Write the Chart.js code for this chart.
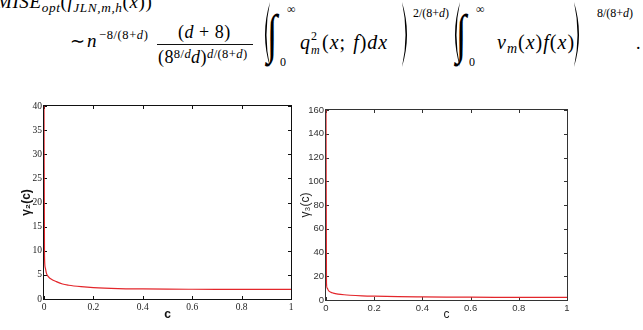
<!DOCTYPE html>
<html>
<head>
<meta charset="utf-8">
<script src="https://cdn.jsdelivr.net/npm/chart.js@4.4.0/dist/chart.umd.min.js"></script>
<style>
  html, body { margin: 0; padding: 0; background: #fff; }
  body { width: 643px; height: 330px; position: relative; overflow: hidden; }
  #formula { position: absolute; left: 0; top: 0; width: 643px; height: 75px;
             font-family: "Liberation Serif", "Times New Roman", serif; color: #000; }
  #formula span.p { position: absolute; white-space: nowrap; line-height: 1; }
  .sb { font-size: 0.7em; vertical-align: -0.3em; line-height: 0; }
  .sp { font-size: 0.7em; vertical-align: 0.4em; line-height: 0; }
  .bar { position: absolute; height: 1px; background: #111; }
  .paren { position: absolute; top: 2px; }
  .box { position: absolute; }
</style>
</head>
<body>
<div id="formula"></div>
<div class="box" style="left:0;top:95px;width:300px;height:235px"><canvas id="gamma2Chart"></canvas></div>
<div class="box" style="left:296px;top:95px;width:300px;height:235px"><canvas id="gamma3Chart"></canvas></div>

<script>
// --- data ---
const cValues = [0, 0.002, 0.005, 0.01, 0.02, 0.03, 0.05, 0.075, 0.1, 0.15, 0.2, 0.3, 0.4, 0.5, 0.6, 0.7, 0.8, 0.9, 1.0];
const gamma2 = [40, 9, 6.5, 5.3, 4.5, 4.1, 3.6, 3.1, 2.85, 2.55, 2.35, 2.15, 2.08, 2.04, 2.02, 2.01, 2.0, 2.0, 2.0];
const gamma3 = [160, 14, 10, 8, 6.5, 5.8, 5.0, 4.4, 4.0, 3.5, 3.2, 2.8, 2.6, 2.45, 2.35, 2.28, 2.22, 2.18, 2.15];
const xTicks = [0, 0.2, 0.4, 0.6, 0.8, 1];
const y2Ticks = [0, 5, 10, 15, 20, 25, 30, 35, 40];
const y3Ticks = [0, 20, 40, 60, 80, 100, 120, 140, 160];

// --- formula above the plots ---
const formula = document.getElementById('formula');
function put(x, baseline, size, html, extra) {
  const s = document.createElement('span');
  s.className = 'p';
  s.style.left = x + 'px';
  s.style.top = (baseline - 0.8375 * size) + 'px';
  s.style.fontSize = size + 'px';
  s.innerHTML = html;
  if (extra) Object.assign(s.style, extra);
  formula.appendChild(s);
}
// tall delimiters drawn as thin crescents
function bigParen(x, right) {
  const d = right
    ? 'M1,0 Q11,32.5 1,65 Q8,32.5 1,0 Z'
    : 'M10,0 Q0,32.5 10,65 Q3,32.5 10,0 Z';
  const div = document.createElement('div');
  div.className = 'paren';
  div.style.left = x + 'px';
  div.innerHTML = '<svg width="12" height="66"><path d="' + d + '" fill="#000"/></svg>';
  formula.appendChild(div);
}
function integral(x) {
  put(x, 52, 54, '∫', { transform: 'scaleX(0.7)', transformOrigin: '0 0' });
}

put(-4, 8, 19, '<i>MISE</i><span class="sb"><i>opt</i></span>(<i>f</i><span class="sb"><i>JLN,m,h</i></span>(<i>x</i>))', { letterSpacing: '0.6px' });
put(70, 47, 18, '∼');
put(87, 47, 19, '<i>n</i>');
put(99, 39, 12.5, '−8/(8+<i>d</i>)', { letterSpacing: '0.6px' });
put(178, 38, 18, '(<i>d</i> + 8)', { letterSpacing: '0.5px' });
const bar = document.createElement('div');
bar.className = 'bar';
Object.assign(bar.style, { left: '157px', top: '44px', width: '96px' });
formula.appendChild(bar);
put(158, 63, 18, '(8<span class="sp">8/<i>d</i></span><i>d</i>)<span class="sp"><i>d</i>/(8+<i>d</i>)</span>', { letterSpacing: '0.4px' });

bigParen(260, false);
integral(267);
put(287, 13, 12, '∞');
put(280, 66, 12, '0');
put(300, 49, 20, '<i>q</i>');
put(311, 40, 12, '2');
put(311, 54, 12, '<i>m</i>');
put(322, 49, 20, '(<i>x</i>; <i>f</i>)<i>dx</i>', { letterSpacing: '1px', wordSpacing: '1px' });
bigParen(401, true);
put(413, 17, 12, '2/(8+<i>d</i>)');

bigParen(450, false);
integral(456);
put(476, 13, 12, '∞');
put(469, 66, 12, '0');
put(497, 49, 20, '<i>ν</i><span class="sb"><i>m</i></span>(<i>x</i>)<i>f</i>(<i>x</i>)', { letterSpacing: '1px' });
bigParen(573, true);
put(597, 17, 12, '8/(8+<i>d</i>)');
put(636, 49, 18, '.');

// --- box + inward tick marks on all four sides, under the curve ---
const frameTicks = {
  id: 'frameTicks',
  beforeDatasetsDraw(chart, args, opts) {
    const { ctx, chartArea: a } = chart;
    const x = chart.scales.x, y = chart.scales.y;
    const L = Math.round(a.left) - 0.5, R = Math.round(a.right) + 0.5;
    const T = Math.round(a.top) - 0.5, B = Math.round(a.bottom) + 0.5;
    ctx.save();
    ctx.strokeStyle = opts.color;
    ctx.lineWidth = 1;
    ctx.strokeRect(L, T, R - L, B - T);
    ctx.beginPath();
    x.ticks.forEach(t => {
      const px = Math.round(x.getPixelForValue(t.value)) + 0.5;
      ctx.moveTo(px, B); ctx.lineTo(px, B - 3.5);
      ctx.moveTo(px, T); ctx.lineTo(px, T + 3.5);
    });
    y.ticks.forEach(t => {
      const py = Math.round(y.getPixelForValue(t.value)) + 0.5;
      ctx.moveTo(L, py); ctx.lineTo(L + 3.5, py);
      ctx.moveTo(R, py); ctx.lineTo(R - 3.5, py);
    });
    ctx.stroke();
    ctx.restore();
  }
};

function makeChart(id, values, yTicks, cfg) {
  const points = cValues.map((c, i) => ({ x: c, y: values[i] }));
  return new Chart(document.getElementById(id), {
    type: 'line',
    data: {
      datasets: [{
        data: points,
        borderColor: '#e3262b',
        borderWidth: 1.2,
        pointRadius: 0,
        cubicInterpolationMode: 'monotone',
        fill: false
      }]
    },
    options: {
      responsive: true,
      maintainAspectRatio: false,
      animation: false,
      layout: { padding: cfg.padding },
      plugins: {
        legend: { display: false },
        tooltip: { enabled: false },
        frameTicks: { color: cfg.frameColor }
      },
      scales: {
        x: {
          type: 'linear',
          min: 0, max: 1,
          afterBuildTicks: s => { s.ticks = xTicks.map(v => ({ value: v })); },
          afterFit: s => { s.height = cfg.xHeight; },
          grid: { display: false, drawTicks: false },
          border: { display: false },
          ticks: { font: cfg.tickFont, color: cfg.tickColor, padding: 3, maxRotation: 0, autoSkip: false,
                   callback: v => String(v) },
          title: { display: true, text: 'c', font: cfg.titleFont, color: cfg.titleColor, padding: { top: 0, bottom: 8 } }
        },
        y: {
          min: yTicks[0], max: yTicks[yTicks.length - 1],
          afterBuildTicks: s => { s.ticks = yTicks.map(v => ({ value: v })); },
          afterFit: s => { s.width = cfg.yWidth; },
          grid: { display: false, drawTicks: false },
          border: { display: false },
          ticks: { font: cfg.tickFont, color: cfg.tickColor, padding: 2, autoSkip: false,
                   callback: v => String(v) },
          title: { display: true, text: cfg.yTitle, font: cfg.titleFont, color: cfg.titleColor, padding: { top: cfg.yTitlePad, bottom: 0 } }
        }
      }
    },
    plugins: [frameTicks]
  });
}

makeChart('gamma2Chart', gamma2, y2Ticks, {
  padding: { left: 0, right: 9, top: 11, bottom: 0 },
  xHeight: 31, yWidth: 44, yTitlePad: 19,
  yTitle: 'γ₂(c)',
  frameColor: '#111',
  tickFont: { family: '"Liberation Serif", "Times New Roman", serif', size: 9.5 },
  tickColor: '#222',
  titleFont: { family: '"Liberation Sans", Arial, sans-serif', size: 12, weight: 'bold' },
  titleColor: '#111'
});

makeChart('gamma3Chart', gamma3, y3Ticks, {
  padding: { left: 0, right: 29, top: 15, bottom: 0 },
  xHeight: 30, yWidth: 30, yTitlePad: 2,
  yTitle: 'γ₃(c)',
  frameColor: '#333',
  tickFont: { family: '"Liberation Sans", Arial, sans-serif', size: 9.5 },
  tickColor: '#333',
  titleFont: { family: '"Liberation Sans", Arial, sans-serif', size: 12 },
  titleColor: '#222'
});
</script>
</body>
</html>
